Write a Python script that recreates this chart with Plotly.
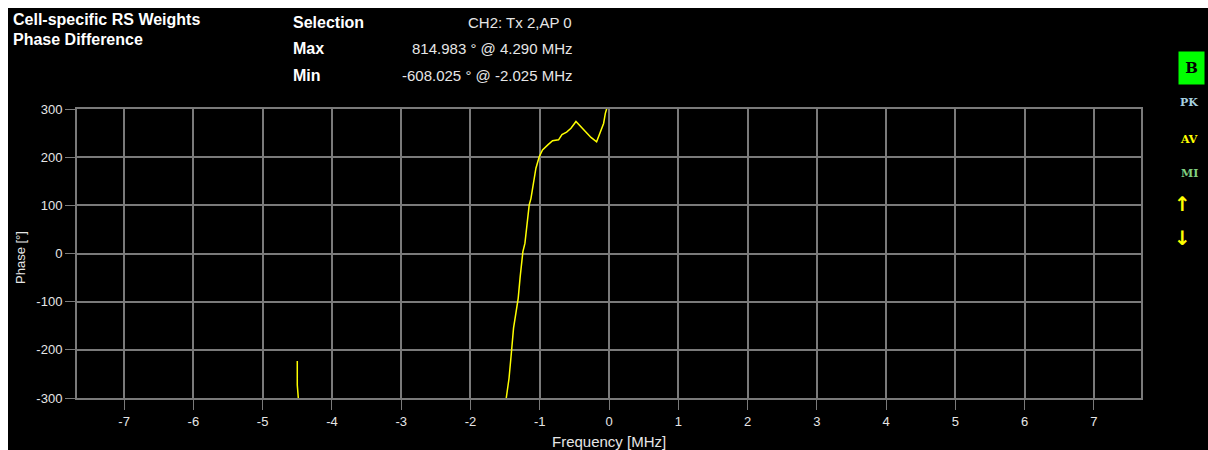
import plotly.graph_objects as go

# Phase difference trace (frequency in MHz, phase in degrees)
freq_mhz = [-4.50, -4.50, -4.485, -4.45, -3.5, -2.025, -1.60, -1.48, -1.443, -1.408, -1.378,
            -1.344, -1.311, -1.282, -1.243, -1.214, -1.190, -1.152, -1.127, -1.094,
            -1.055, -1.007, -0.960, -0.887, -0.815, -0.728, -0.679, -0.612, -0.549,
            -0.477, -0.405, -0.332, -0.260, -0.179, -0.130, -0.078, -0.053, -0.030,
            0.0, 1.5, 3.0, 4.29, 4.50]
phase_deg = [-223, -273, -300, -330, -480, -608.025, -420, -300, -259, -204, -155,
             -124, -93, -48, 4, 21, 56, 101, 114, 146,
             177, 201, 215, 225, 234, 236, 247, 252, 260,
             274, 263, 252, 241, 232, 252, 270, 291, 302,
             330, 520, 700, 814.983, 790]

x_ticks = list(range(-7, 8))
y_ticks = [-300, -200, -100, 0, 100, 200, 300]
x_tick_text = [str(v) for v in x_ticks]
y_tick_text = [str(v) for v in y_ticks]

W, H = 1208, 450
L, R, T, B = 77, 67, 109, 52
PW, PH = W - L - R, H - T - B

GRID = "#7a7a7a"
TXT = "#e6e6e6"
NARROW = "Liberation Sans Narrow, Liberation Sans, Arial, sans-serif"
BOLD = "Liberation Sans, Arial, sans-serif"


def px(x):
    return (x - L) / PW


def py(y):
    return (H - B - y) / PH


fig = go.Figure()
fig.add_trace(go.Scatter(x=freq_mhz, y=phase_deg, mode="lines",
                         line=dict(color="#ffff00", width=1.5),
                         hoverinfo="skip", showlegend=False))

axis_common = dict(showgrid=True, gridcolor=GRID, gridwidth=2,
                   zeroline=False, showline=True, linecolor=GRID, linewidth=2,
                   mirror=True, ticks="outside", tickcolor=GRID, tickwidth=1,
                   ticklen=10, tickfont=dict(family=NARROW, size=13, color=TXT))

fig.update_xaxes(range=[-7.68, 7.68], tickvals=x_ticks, ticktext=x_tick_text, **axis_common)
fig.update_yaxes(range=[-300, 300], tickvals=y_ticks, ticktext=y_tick_text, **axis_common)

ann = []


def text(x, y, s, size=13, color=TXT, family=NARROW, xanchor="left", bold=False, **kw):
    if bold:
        s = "<b>" + s + "</b>"
    ann.append(dict(x=px(x), y=py(y), xref="paper", yref="paper", text=s,
                    showarrow=False, xanchor=xanchor, yanchor="middle",
                    font=dict(family=family, size=size, color=color), **kw))


# Header block
text(11, 20, "Cell-specific RS Weights", size=16, color="#ffffff", family=BOLD, bold=True)
text(11, 40, "Phase Difference", size=16, color="#ffffff", family=BOLD, bold=True)
text(291, 22, "Selection", size=16, color="#ffffff", family=BOLD, bold=True)
text(291, 48, "Max", size=16, color="#ffffff", family=BOLD, bold=True)
text(291, 75, "Min", size=16, color="#ffffff", family=BOLD, bold=True)
text(574, 22, "CH2: Tx 2,AP 0", size=15, xanchor="right")
text(574, 48, "814.983 ° @ 4.290 MHz", size=15, xanchor="right")
text(574, 75, "-608.025 ° @ -2.025 MHz", size=15, xanchor="right")

# Axis titles
text(609, 441, "Frequency [MHz]", size=15, xanchor="center")
text(20, 258, "Phase [°]", xanchor="center", textangle=-90)

# Trace selector badges on the right
SERIF = "DejaVu Serif, Liberation Serif, serif"
text(1191, 68, "B", size=15, color="#000000", family=SERIF, xanchor="center", bold=True,
     bgcolor="#00ff00", width=23, height=30)
text(1189, 103, "PK", size=11, color="#a8d0e0", family=SERIF, xanchor="center", bold=True)
text(1189, 139, "AV", size=11, color="#ffff00", family=SERIF, xanchor="center", bold=True)
text(1189, 173, "MI", size=11, color="#80d080", family=SERIF, xanchor="center", bold=True)
ARROW = "DejaVu Sans, sans-serif"
text(1182, 204, "↑", size=20, color="#ffff00", family=ARROW, xanchor="center", bold=True)
text(1182, 238, "↓", size=20, color="#ffff00", family=ARROW, xanchor="center", bold=True)

# White frame strips on the left and top edges
shapes = [
    dict(type="rect", xref="paper", yref="paper", x0=px(0), x1=px(8), y0=py(H), y1=py(0),
         fillcolor="#ffffff", line=dict(width=0), layer="below"),
    dict(type="rect", xref="paper", yref="paper", x0=px(0), x1=px(W), y0=py(8), y1=py(0),
         fillcolor="#ffffff", line=dict(width=0), layer="below"),
]

fig.update_layout(width=W, height=H, margin=dict(l=L, r=R, t=T, b=B),
                  paper_bgcolor="#000000", plot_bgcolor="#000000",
                  annotations=ann, shapes=shapes, showlegend=False)

fig.write_html("out.html")
